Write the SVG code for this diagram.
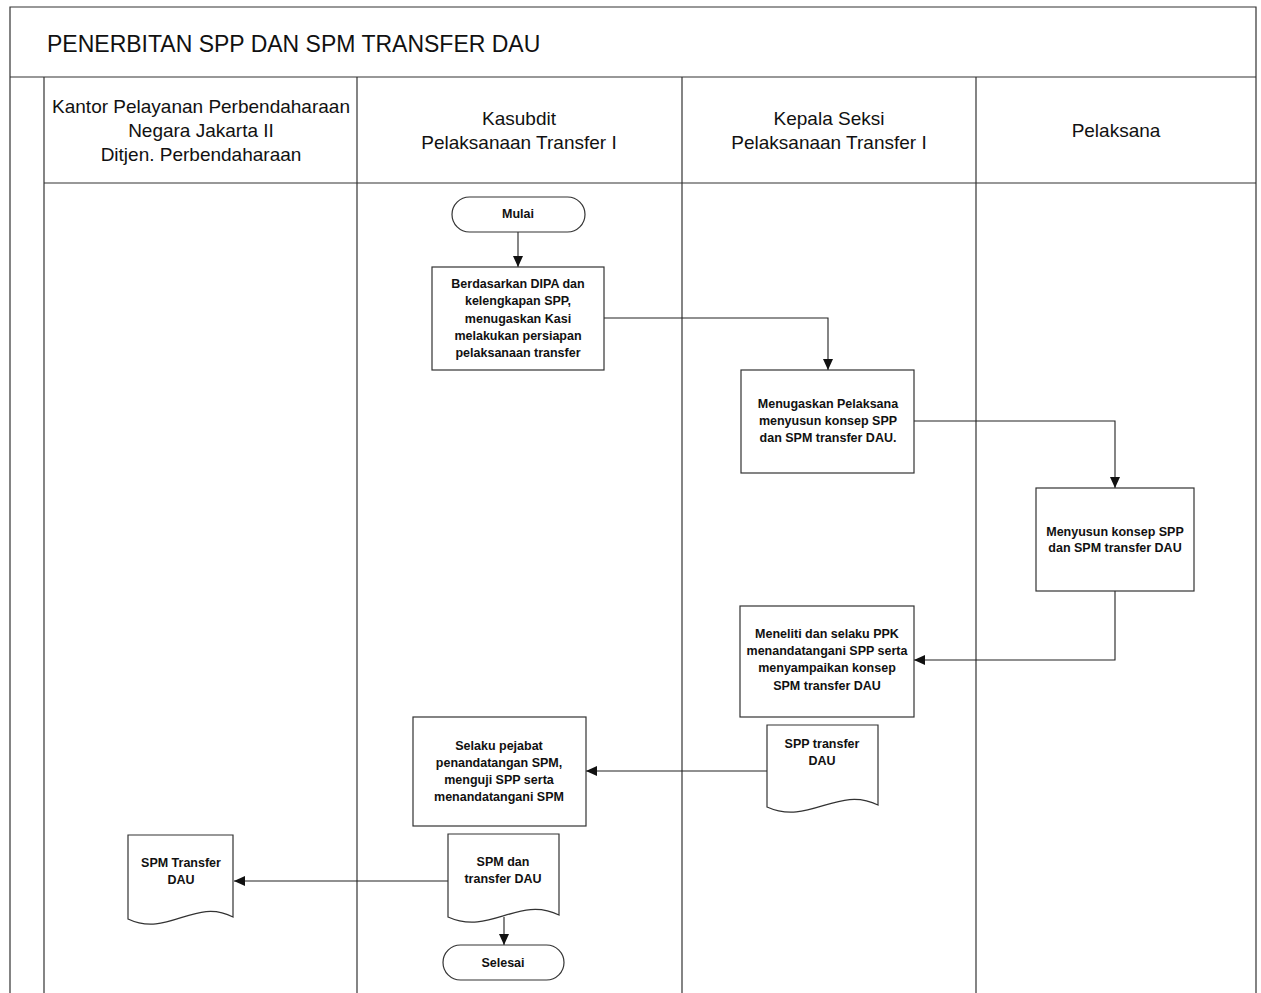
<svg xmlns="http://www.w3.org/2000/svg" width="1261" height="993" viewBox="0 0 1261 993">
  <style>
    .frame { fill: none; stroke: #333; stroke-width: 1.2; }
    .shape { fill: #fff; stroke: #333; stroke-width: 1.2; }
    .conn { fill: none; stroke: #222; stroke-width: 1.1; }
    .title { font-family: "Liberation Sans", Arial, sans-serif; font-size: 23px; fill: #111; }
    .lane { font-family: "Liberation Sans", Arial, sans-serif; font-size: 19px; fill: #111; text-anchor: middle; }
    .lbl { font-family: "Liberation Sans", Arial, sans-serif; font-size: 12.5px; font-weight: bold; fill: #111; text-anchor: middle; }
  </style>
  <defs>
    <marker id="arrow" markerUnits="userSpaceOnUse" markerWidth="12" markerHeight="10" refX="11" refY="5" orient="auto">
      <path d="M0,0 L11,5 L0,10 z" fill="#111"/>
    </marker>
  </defs>

  <rect width="1261" height="993" fill="#fff"/>

  <!-- swimlane frame -->
  <g id="frame">
    <path class="frame" d="M10,993 V7 H1256 V993"/>
    <line class="frame" x1="10" y1="77" x2="1256" y2="77"/>
    <line class="frame" x1="44" y1="183" x2="1256" y2="183"/>
    <line class="frame" x1="44" y1="77" x2="44" y2="993"/>
    <line class="frame" x1="357" y1="77" x2="357" y2="993"/>
    <line class="frame" x1="682" y1="77" x2="682" y2="993"/>
    <line class="frame" x1="976" y1="77" x2="976" y2="993"/>
    <text class="title" x="47" y="52">PENERBITAN SPP DAN SPM TRANSFER DAU</text>
  </g>

  <g id="lane-headers">
    <text class="lane" x="201" y="113">Kantor Pelayanan Perbendaharaan</text>
    <text class="lane" x="201" y="137">Negara Jakarta II</text>
    <text class="lane" x="201" y="161">Ditjen. Perbendaharaan</text>
    <text class="lane" x="519" y="125">Kasubdit</text>
    <text class="lane" x="519" y="149">Pelaksanaan Transfer I</text>
    <text class="lane" x="829" y="125">Kepala Seksi</text>
    <text class="lane" x="829" y="149">Pelaksanaan Transfer I</text>
    <text class="lane" x="1116" y="137">Pelaksana</text>
  </g>

  <!-- connectors -->
  <g id="connectors">
    <path class="conn" d="M518,232 V267" marker-end="url(#arrow)"/>
    <path class="conn" d="M604,318 H828 V370" marker-end="url(#arrow)"/>
    <path class="conn" d="M914,421 H1115 V488" marker-end="url(#arrow)"/>
    <path class="conn" d="M1115,591 V660 H914" marker-end="url(#arrow)"/>
    <path class="conn" d="M767,771 H586" marker-end="url(#arrow)"/>
    <path class="conn" d="M448,881 H234" marker-end="url(#arrow)"/>
    <path class="conn" d="M504,917 V945" marker-end="url(#arrow)"/>
  </g>

  <g id="mulai">
    <rect class="shape" x="452" y="197" width="133" height="35" rx="17.5"/>
    <text class="lbl" x="518" y="218">Mulai</text>
  </g>

  <g id="tugaskan-kasi">
    <rect class="shape" x="432" y="267" width="172" height="103"/>
    <text class="lbl" x="518" y="288">Berdasarkan DIPA dan</text>
    <text class="lbl" x="518" y="305">kelengkapan SPP,</text>
    <text class="lbl" x="518" y="323">menugaskan Kasi</text>
    <text class="lbl" x="518" y="340">melakukan persiapan</text>
    <text class="lbl" x="518" y="357">pelaksanaan transfer</text>
  </g>

  <g id="tugaskan-pelaksana">
    <rect class="shape" x="741" y="370" width="173" height="103"/>
    <text class="lbl" x="828" y="408">Menugaskan Pelaksana</text>
    <text class="lbl" x="828" y="425">menyusun konsep SPP</text>
    <text class="lbl" x="828" y="442">dan SPM transfer  DAU.</text>
  </g>

  <g id="susun-konsep">
    <rect class="shape" x="1036" y="488" width="158" height="103"/>
    <text class="lbl" x="1115" y="536">Menyusun konsep SPP</text>
    <text class="lbl" x="1115" y="552">dan SPM transfer DAU</text>
  </g>

  <g id="teliti-ppk">
    <rect class="shape" x="740" y="606" width="174" height="111"/>
    <text class="lbl" x="827" y="638">Meneliti dan selaku PPK</text>
    <text class="lbl" x="827" y="655">menandatangani SPP serta</text>
    <text class="lbl" x="827" y="672">menyampaikan konsep</text>
    <text class="lbl" x="827" y="690">SPM transfer DAU</text>
  </g>

  <g id="doc-spp">
    <path class="shape" d="M767,725 H878 V805 C838,785 809,826 767,807 Z"/>
    <text class="lbl" x="822" y="748">SPP transfer</text>
    <text class="lbl" x="822" y="765">DAU</text>
  </g>

  <g id="uji-spm">
    <rect class="shape" x="413" y="717" width="173" height="109"/>
    <text class="lbl" x="499" y="750">Selaku pejabat</text>
    <text class="lbl" x="499" y="767">penandatangan SPM,</text>
    <text class="lbl" x="499" y="784">menguji SPP serta</text>
    <text class="lbl" x="499" y="801">menandatangani SPM</text>
  </g>

  <g id="doc-spm">
    <path class="shape" d="M448,834 H559 V915 C519,895 490,936 448,917 Z"/>
    <text class="lbl" x="503" y="866">SPM dan</text>
    <text class="lbl" x="503" y="883">transfer DAU</text>
  </g>

  <g id="doc-spm-kppn">
    <path class="shape" d="M128,835 H233 V917 C195,897 168,938 128,919 Z"/>
    <text class="lbl" x="181" y="867">SPM Transfer</text>
    <text class="lbl" x="181" y="884">DAU</text>
  </g>

  <g id="selesai">
    <rect class="shape" x="443" y="945" width="121" height="35" rx="17.5"/>
    <text class="lbl" x="503" y="967">Selesai</text>
  </g>
</svg>
